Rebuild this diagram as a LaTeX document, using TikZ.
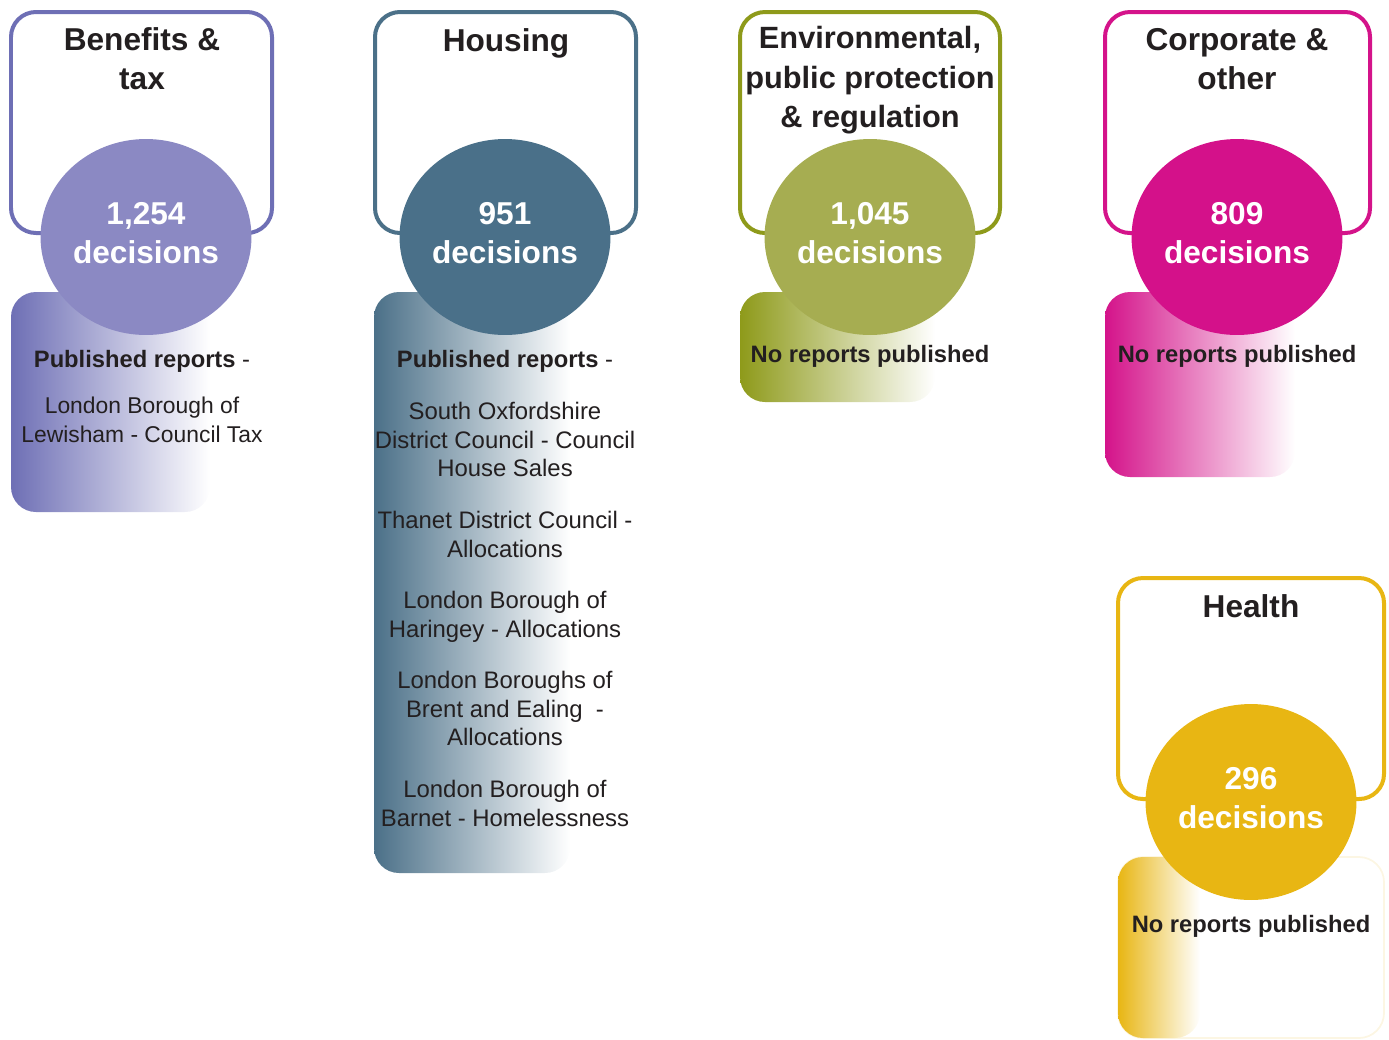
\documentclass[tikz,border=0pt]{standalone}
\usepackage{fontspec}
\setmainfont{Liberation Sans}
\usetikzlibrary{shapes.geometric}

\definecolor{ink}{HTML}{231F20}
\definecolor{benefitline}{HTML}{6E6FB5}
\definecolor{benefitfill}{HTML}{8B89C3}
\definecolor{housingline}{HTML}{4B7088}
\definecolor{housingfill}{HTML}{4A7089}
\definecolor{envline}{HTML}{8E9A1A}
\definecolor{envfill}{HTML}{A6AD51}
\definecolor{corpline}{HTML}{D4138A}
\definecolor{corpfill}{HTML}{D4118A}
\definecolor{healthline}{HTML}{E8B613}
\definecolor{healthfill}{HTML}{E8B613}

\begin{document}
\begin{tikzpicture}[x = 0.02cm, y = -0.02cm,
	every node/.style = {inner sep = 0pt, text = ink},
	frame/.style = {draw = #1, line width = 0.08cm, rounded corners = 0.5cm},
	fadebox/.style = {rounded corners = 0.5cm, left color = #1, middle color = #1!30, right color = white},
	heading/.style = {font = \fontsize{18}{22.2}\selectfont\bfseries, align = center, anchor = base},
	tally/.style = {ellipse, minimum width = 4.22cm, minimum height = 3.92cm, fill = #1, text = white,
		text depth = 0.16cm, font = \fontsize{18}{22.2}\selectfont\bfseries, align = center},
	reports/.style = {font = \fontsize{13}{16.3}\selectfont, align = center, anchor = base},
	noreports/.style = {font = \fontsize{13.5}{16.3}\selectfont\bfseries, anchor = base}]

	\useasboundingbox (0, 0) rectangle (1389, 1039);

	% Outlined boxes for the headings

	\draw [frame = benefitline] (11, 12) rectangle (272, 233);
	\draw [frame = housingline] (375, 12) rectangle (636, 233);
	\draw [frame = envline] (740, 12) rectangle (1000, 233);
	\draw [frame = corpline] (1105, 12) rectangle (1370, 233);
	\draw [frame = healthline] (1118, 578) rectangle (1384, 799);

	% Faded boxes under the counts

	\path [fadebox = benefitline] (11, 292) rectangle (210, 512);
	\path [fadebox = housingline] (374, 292) rectangle (570, 873);
	\path [fadebox = envline] (740, 292) rectangle (935, 402);
	\path [fadebox = corpline] (1105, 292) rectangle (1295, 477);
	\draw [healthline!12, line width = 1pt, rounded corners = 0.5cm] (1118, 857) rectangle (1384, 1038);
	\path [fadebox = healthline] (1118, 857) rectangle (1200, 1038);

	% Headings (base is the last line)

	\node [heading] (bentitle) at (142, 89) {Benefits \&\\tax};
	\node [heading] (houtitle) at (506, 51) {Housing};
	\node [heading, font = \fontsize{17.5}{22.2}\selectfont\bfseries] (envtitle) at (870, 127)
		{Environmental,\\public protection\\\& regulation};
	\node [heading] (corptitle) at (1237, 89) {Corporate \&\\other};
	\node [heading] (healthtitle) at (1251, 617) {Health};

	% Counts of decisions

	\node [tally = benefitfill] (bencount) at (146, 237) {1,254\\decisions};
	\node [tally = housingfill] (houcount) at (505, 237) {951\\decisions};
	\node [tally = envfill] (envcount) at (870, 237) {1,045\\decisions};
	\node [tally = corpfill] (corpcount) at (1237, 237) {809\\decisions};
	\node [tally = healthfill] (healthcount) at (1251, 802) {296\\decisions};

	% Published reports

	\node [noreports] (benhead) at (142, 367) {Published reports \mdseries -};
	\node [reports] (benlist) at (142, 442) {London Borough of\\Lewisham - Council Tax};

	\node [noreports] (houhead) at (505, 367) {Published reports \mdseries -};
	\node [reports, font = \fontsize{13.6}{16.3}\selectfont] (houlist) at (505, 826)
		{South Oxfordshire\\District Council - Council\\House Sales\\[13pt]
		Thanet District Council -\\Allocations\\[13pt]
		London Borough of\\Haringey - Allocations\\[13pt]
		London Boroughs of\\Brent and Ealing\ \ -\\Allocations\\[13pt]
		London Borough of\\Barnet - Homelessness};

	\node [noreports] (envnone) at (870, 362) {No reports published};
	\node [noreports] (corpnone) at (1237, 362) {No reports published};
	\node [noreports] (healthnone) at (1251, 932) {No reports published};

\end{tikzpicture}
\end{document}
